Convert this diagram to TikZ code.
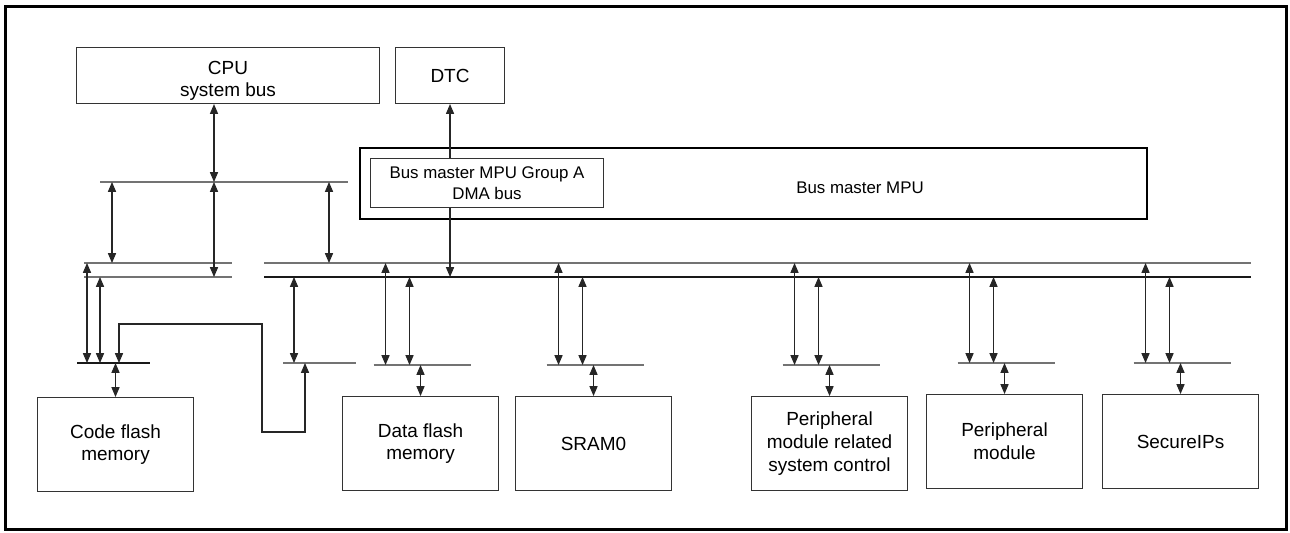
\documentclass[tikz,border=0pt]{standalone}
\usepackage{fontspec}
\setmainfont{Liberation Sans}
\usepackage{tikz}
\usetikzlibrary{arrows.meta}
\newcommand\diafont{\fontsize{10.8}{13}\selectfont}
\newcommand\mpufont{\fontsize{9.6}{12}\selectfont}
\tikzset{
  outerframe/.style = {draw=black, line width=1.7pt},
  blk/.style        = {draw=black!80, line width=0.6pt, minimum width=3.12cm, minimum height=1.88cm, align=center, font=\diafont, inner sep=0pt},
  topblk/.style     = {draw=black!80, line width=0.6pt, minimum height=1.12cm, align=center, font=\diafont, inner sep=0pt},
  mpubox/.style     = {draw=black, line width=1.1pt, minimum width=15.74cm, minimum height=1.42cm, inner sep=0pt},
  dmabox/.style     = {draw=black!80, line width=0.6pt, minimum width=4.66cm, minimum height=0.98cm, align=center, font=\mpufont, inner sep=0pt},
  lbl/.style        = {font=\mpufont, inner sep=0pt},
  busg/.style       = {draw=black!55, line width=0.6pt},
  busk/.style       = {draw=black!90, line width=0.6pt},
  dbl/.style        = {{Triangle[length=5.6pt,width=4.6pt]}-{Triangle[length=5.6pt,width=4.6pt]}, draw=black!85, line width=0.6pt},
  tipstart/.style   = {{Triangle[length=5.6pt,width=4.6pt]}-, draw=black!85, line width=0.6pt},
  tipend/.style     = {-{Triangle[length=5.6pt,width=4.6pt]}, draw=black!85, line width=0.6pt},
}

\begin{document}
\begin{tikzpicture}[x=0.02cm,y=-0.02cm]
  \useasboundingbox (0,0) rectangle (1290,532);
  \draw[outerframe] (5.5,6) rectangle (1286,529.5);

  % bus masters
  \node[topblk, minimum width=6.06cm, anchor=north west] (cpu) at (76,47) {\rule{0pt}{13.5pt}CPU\\system bus};
  \node[topblk, minimum width=2.18cm, anchor=north west] (dtc) at (395,47) {DTC};
  \node[mpubox, anchor=north west] (mpu) at (359,147) {};
  \node[lbl] (mputxt) at (860,188) {Bus master MPU};
  \node[dmabox, anchor=north west] (dma) at (370,158) {Bus master MPU Group A\\DMA bus};

  % slaves
  \node[blk, anchor=north west] (cflash) at (37,397) {Code flash\\memory};
  \node[blk, anchor=north west] (dflash) at (342,396) {Data flash\\memory};
  \node[blk, anchor=north west] (sram) at (515,396) {SRAM0};
  \node[blk, anchor=north west] (prsc) at (751,396) {Peripheral\\module related\\system control};
  \node[blk, anchor=north west] (pmod) at (926,394) {Peripheral\\module};
  \node[blk, anchor=north west] (sips) at (1102,394) {SecureIPs};

  % bus lines
  \coordinate (sysW) at (100,182);  \coordinate (sysE) at (348,182);
  \coordinate (lupW) at (84,263);   \coordinate (lupE) at (232,263);
  \coordinate (llwW) at (84,277);   \coordinate (llwE) at (232,277);
  \coordinate (mupW) at (264,263);  \coordinate (mupE) at (1251,263);
  \coordinate (mlwW) at (264,277);  \coordinate (mlwE) at (1251,277);
  \coordinate (cfW) at (77,363);    \coordinate (cfE) at (150,363);
  \coordinate (xbW) at (283,363);   \coordinate (xbE) at (356,363);
  \draw[busg] (sysW) -- (sysE);
  \draw[busg] (lupW) -- (lupE);
  \draw[busg] (llwW) -- (llwE);
  \draw[busg] (mupW) -- (mupE);
  \draw[busk] (mlwW) -- (mlwE);
  \draw[busk] (cfW) -- (cfE);
  \draw[busg] (xbW) -- (xbE);

  % CPU side
  \draw[dbl] (cpu.south -| 214,0) -- (sysW -| 214,0);
  \draw[dbl] (sysW -| 112,0) -- (lupW -| 112,0);
  \draw[dbl] (sysW -| 214,0) -- (llwW -| 214,0);
  \draw[dbl] (sysW -| 329,0) -- (mupW -| 329,0);

  % DTC through the MPU
  \draw[tipstart] (dtc.south) -- (dtc.south |- dma.north);
  \draw[tipend] (dtc.south |- dma.south) -- (dtc.south |- mlwW);

  % code flash
  \draw[dbl] (lupW -| 87,0) -- (cfW -| 87,0);
  \draw[dbl] (llwW -| 100,0) -- (cfW -| 100,0);
  \draw[dbl] (cfW -| cflash.north) -- (cflash.north);
  \draw[dbl] (mlwW -| 294,0) -- (xbW -| 294,0);
  \draw[dbl] (cfW -| 119,0) -- (119,324) -- (262,324) -- (262,432) -- (305,432) -- (xbW -| 305,0);

  % other slaves
  \foreach \b in {dflash,sram,prsc,pmod,sips} {
    \coordinate (\b-sub) at ([yshift=0.62cm]\b.north);
    \coordinate (\b-u) at ([xshift=-0.70cm]\b-sub);
    \coordinate (\b-l) at ([xshift=-0.22cm]\b-sub);
    \draw[busg] ([xshift=-0.94cm]\b-sub) -- ([xshift=1cm]\b-sub);
    \draw[dbl] (\b-u |- mupW) -- (\b-u);
    \draw[dbl] (\b-l |- mlwW) -- (\b-l);
    \draw[dbl] (\b-sub) -- (\b.north);
  }
\end{tikzpicture}
\end{document}
